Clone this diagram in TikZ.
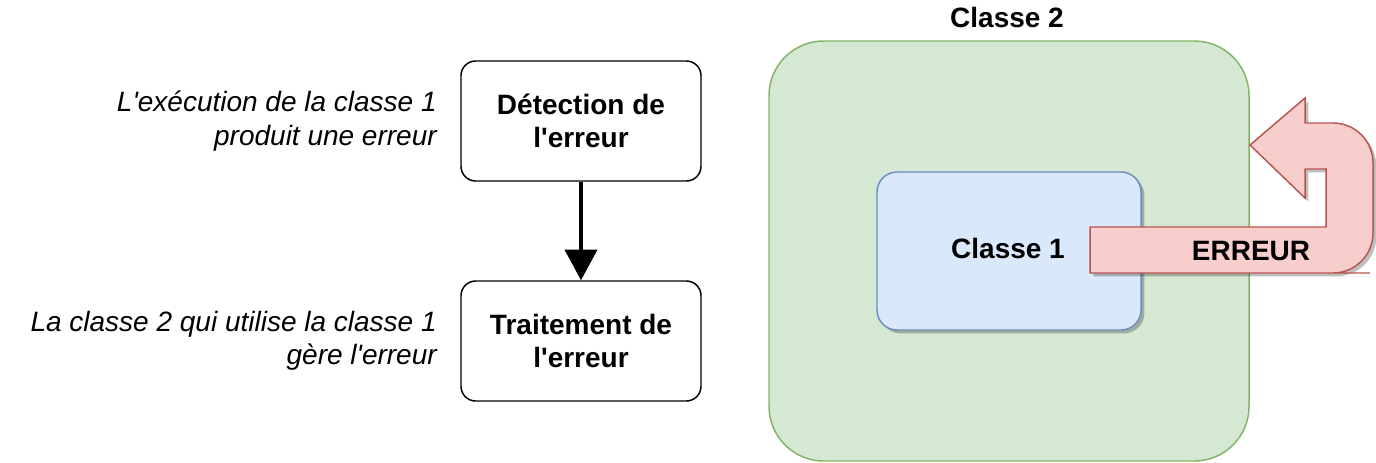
\documentclass[tikz,border=0pt]{standalone}
\usepackage{fontspec}
\setmainfont{Liberation Sans}
\usetikzlibrary{arrows.meta,shadows}

\definecolor{greenfill}{HTML}{D5E8D4}
\definecolor{greenline}{HTML}{82B366}
\definecolor{bluefill}{HTML}{DAE8FC}
\definecolor{blueline}{HTML}{6C8EBF}
\definecolor{redfill}{HTML}{F8CECC}
\definecolor{redline}{HTML}{B85450}

\newcommand{\apos}{\textquotesingle}

\tikzset{
  stepbox/.style={draw, rounded corners=11pt, line width=1.1pt,
    minimum width=180pt, minimum height=90pt, align=center,
    font=\bfseries\fontsize{21}{25}\selectfont},
  note/.style={anchor=east, align=right, inner sep=0pt,
    font=\itshape\fontsize{21}{25}\selectfont},
  label/.style={inner sep=0pt, font=\bfseries\fontsize{21}{25}\selectfont},
  flow/.style={line width=3pt, -{Triangle[width=24pt,length=23pt]}},
  softshadow/.style={drop shadow={shadow xshift=2.5pt, shadow yshift=-2.5pt,
    opacity=0.25, fill=black}}
}

\begin{document}
\begin{tikzpicture}[x=0.75pt,y=-0.75pt]
  \useasboundingbox (0,0) rectangle (1376,462);

  % left part
  \node[stepbox] (detect) at (581,121) {Détection de\\l\apos erreur};
  \node[stepbox] (treat) at (581,341) {Traitement de\\l\apos erreur};
  \draw[flow] (detect) -- (treat);

  \node[note] (notedetect) at (437,121) {L\apos exécution de la classe 1\\produit une erreur};
  \node[note] (notetreat) at (437,341) {La classe 2 qui utilise la classe 1\\gère l\apos erreur};

  % right part
  \node[draw=greenline, fill=greenfill, line width=1.1pt, rounded corners=41pt,
    minimum width=360pt, minimum height=315pt] (cls2) at (1009,251) {};
  \node[label] (cls2label) at (1007,17) {Classe 2};

  \node[draw=blueline, fill=bluefill, line width=1.1pt, rounded corners=15pt,
    minimum width=198pt, minimum height=118.5pt, softshadow] (cls1) at (1009,251) {};
  \node[label] (cls1label) at (1008,248) {Classe 1};

  \draw[draw=redline, fill=redfill, line width=1.1pt, softshadow]
    (1090,227) -- (1326,227) -- (1326,169) -- (1305,169) -- (1305,198)
    -- (1250,145) -- (1305,98) -- (1305,123) -- (1330,123)
    [rounded corners=30pt] -- (1373,123) -- (1373,273) -- (1330,273)
    [sharp corners] -- (1090,273) -- cycle;
  \node[label] (err) at (1251,251) {ERREUR};

\end{tikzpicture}
\end{document}
